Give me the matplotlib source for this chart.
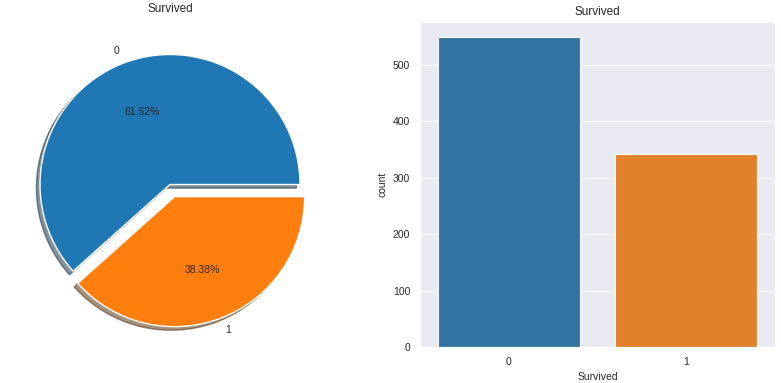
import matplotlib
matplotlib.use('Agg')
import matplotlib.pyplot as plt
import seaborn as sns

categories = ['0', '1']
counts = [549, 342]
pie_colors = ['#1f77b4', '#ff7f0e']
explode = [0, 0.1]

sns.set_style('darkgrid')
plt.rcParams['font.family'] = ['Liberation Sans', 'DejaVu Sans']
plt.rcParams['font.size'] = 7.5

fig = plt.figure(figsize=(7.81, 3.83), dpi=100)
ax0 = fig.add_axes([7.5 / 781, 36 / 383, 325 / 781, 325 / 383])
ax1 = fig.add_axes([420 / 781, 36 / 383, 355 / 781, 325 / 383])

# pie of survived counts
ax0.pie(counts, labels=categories, explode=explode, autopct='%1.2f%%',
        shadow=True, colors=pie_colors, textprops={'fontsize': 7.5, 'color': '#262626'})
ax0.set_title('Survived', fontsize=8.5, color='#262626', pad=7)
ax0.set_ylabel('')

# count bars
bar_colors = [sns.desaturate(c, 0.75) for c in pie_colors]
ax1.bar(categories, counts, width=0.8, color=bar_colors, edgecolor='white', linewidth=0.8)
ax1.set_xlim(-0.5, 1.5)
ax1.grid(False, axis='x')
ax1.set_title('Survived', fontsize=8.5, color='#262626', pad=5)
ax1.set_xlabel('Survived', fontsize=7.5, color='#262626')
ax1.set_ylabel('count', fontsize=7.5, color='#262626')
ax1.tick_params(labelsize=7.5, colors='#262626')

plt.savefig('out.png', dpi=100)
